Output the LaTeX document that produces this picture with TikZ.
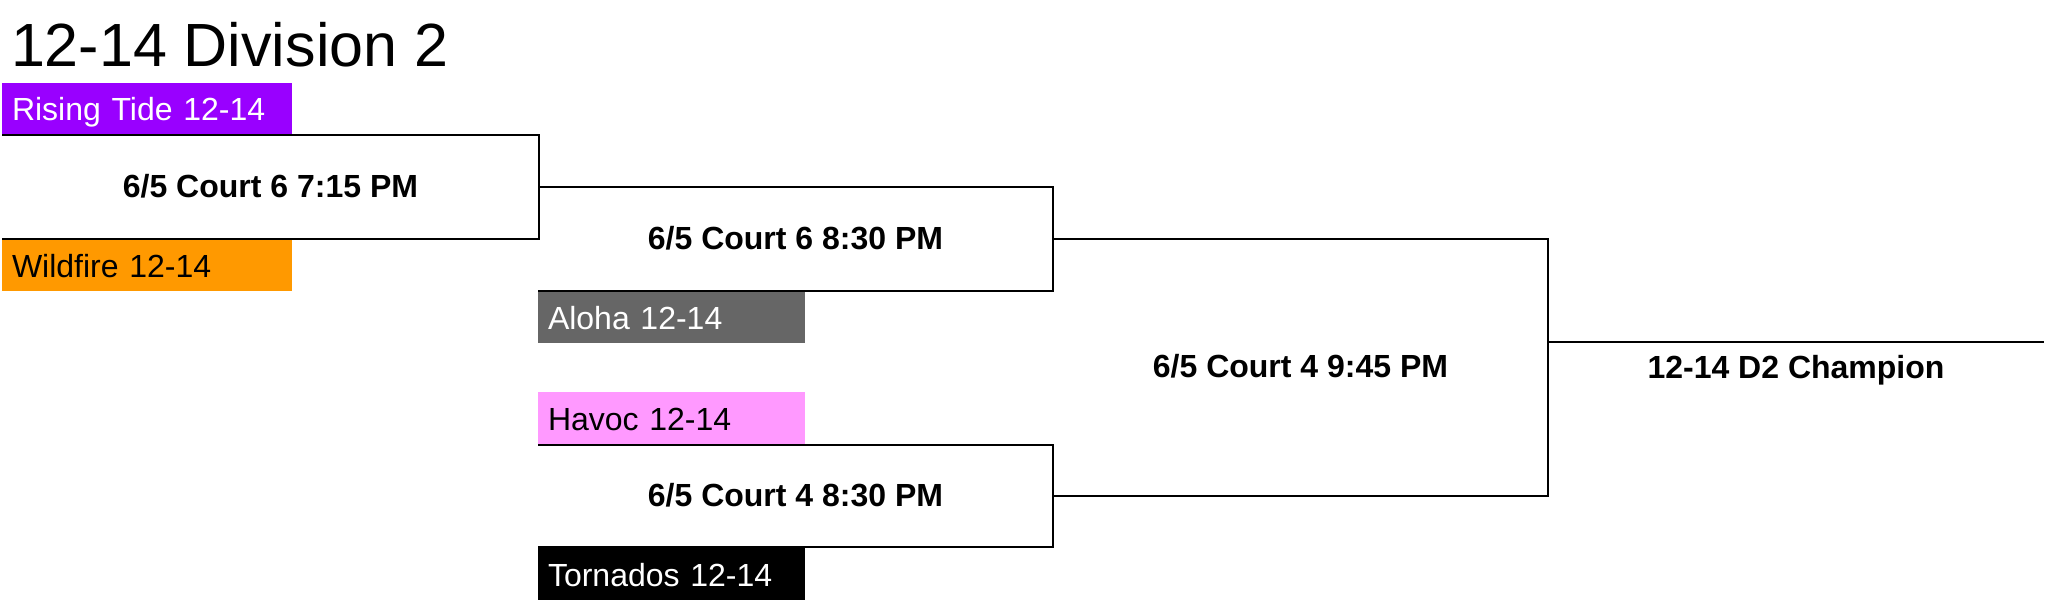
\documentclass[tikz,border=0pt]{standalone}
\usepackage{fontspec}
\setmainfont{Liberation Sans}
\definecolor{tidepurple}{HTML}{9900FF}
\definecolor{fireorange}{HTML}{FF9900}
\definecolor{alohagray}{HTML}{666666}
\definecolor{havocpink}{HTML}{FF99FF}
\begin{document}
\begin{tikzpicture}[x=0.5pt,y=-0.5pt,every node/.style={inner sep=0pt,outer sep=0pt},font=\fontsize{16}{19}\selectfont]
	\tikzset{TeamStyle/.style={anchor=north west,minimum height=26pt,text height=1.2em,text depth=0pt,align=left,inner xsep=5pt}}
	\tikzset{MatchStyle/.style={font=\fontsize{16}{19}\selectfont\bfseries,text height=1.03em,text depth=0pt}}
	\tikzset{BracketLine/.style={line width=1.3pt,color=black,line join=miter}}
	\useasboundingbox (0,0) rectangle (2048,604);
	\node[anchor=base west,font=\fontsize{30.5}{37}\selectfont] (title) at (11,67) {12-14 Division 2};
	\node[TeamStyle,fill=tidepurple,text=white,text width=135pt] (tide) at (2,83) {Rising Tide 12-14};
	\node[TeamStyle,fill=fireorange,text=black,text width=135pt] (fire) at (2,239) {Wildfire 12-14};
	\node[TeamStyle,fill=alohagray,text=white,text width=123.5pt] (aloha) at (538,291) {Aloha 12-14};
	\node[TeamStyle,fill=havocpink,text=black,text width=123.5pt] (havoc) at (538,392) {Havoc 12-14};
	\node[TeamStyle,fill=black,text=white,text width=123.5pt] (tornados) at (538,548) {Tornados 12-14};
	\node[MatchStyle,minimum width=268.5pt,minimum height=52pt] (m1) at (270.5,187) {6/5 Court 6 7:15 PM};
	\node[MatchStyle,minimum width=257.5pt,minimum height=52pt] (m2) at (795.5,239) {6/5 Court 6 8:30 PM};
	\node[MatchStyle,minimum width=257.5pt,minimum height=51pt] (m4) at (795.5,496) {6/5 Court 4 8:30 PM};
	\node[MatchStyle,minimum width=247.5pt,minimum height=128.5pt] (m3) at (1300.5,367.5) {6/5 Court 4 9:45 PM};
	\node[MatchStyle,minimum width=248pt,minimum height=26pt] (champ) at (1796,368) {12-14 D2 Champion};
	\draw[BracketLine] (m1.north west) -- (m1.north east) -- (m1.south east) -- (m1.south west);
	\draw[BracketLine] (m1.east) -- (m2.north east) -- (m2.south east) -- (m2.south west);
	\draw[BracketLine] (m4.north west) -- (m4.north east) -- (m4.south east) -- (m4.south west);
	\draw[BracketLine] (m2.east) -- (m3.north east) -- (m3.south east) -- (m4.east);
	\draw[BracketLine] (champ.north west) -- (champ.north east);
\end{tikzpicture}
\end{document}
